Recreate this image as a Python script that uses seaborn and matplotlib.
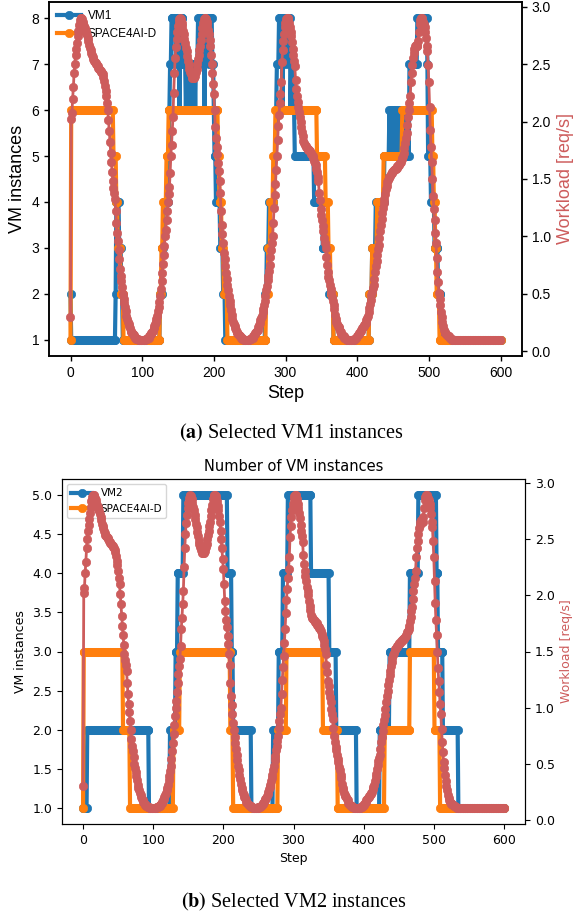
import numpy as np
import pandas as pd
import matplotlib
matplotlib.use("Agg")
import matplotlib.pyplot as plt
import seaborn as sns

steps = np.arange(601)

# workload [req/s], one value per step
workload = [
    0.30, 2.02, 2.07, 2.20, 2.30, 2.42, 2.50, 2.58, 2.63, 2.68,
    2.74, 2.79, 2.84, 2.88, 2.90, 2.90, 2.89, 2.87, 2.85, 2.83,
    2.81, 2.79, 2.77, 2.75, 2.73, 2.70, 2.67, 2.64, 2.62, 2.60,
    2.58, 2.56, 2.54, 2.53, 2.52, 2.51, 2.50, 2.49, 2.48, 2.47,
    2.46, 2.45, 2.44, 2.43, 2.42, 2.41, 2.39, 2.35, 2.31, 2.27,
    2.22, 2.16, 2.10, 2.01, 1.92, 1.82, 1.73, 1.65, 1.56, 1.48,
    1.42, 1.38, 1.33, 1.22, 1.12, 1.03, 0.96, 0.88, 0.80, 0.72,
    0.66, 0.61, 0.56, 0.50, 0.46, 0.42, 0.39, 0.35, 0.31, 0.28,
    0.26, 0.24, 0.22, 0.20, 0.18, 0.17, 0.16, 0.15, 0.14, 0.13,
    0.12, 0.12, 0.11, 0.11, 0.11, 0.10, 0.10, 0.10, 0.10, 0.10,
    0.10, 0.10, 0.10, 0.10, 0.10, 0.11, 0.11, 0.11, 0.12, 0.12,
    0.13, 0.14, 0.15, 0.16, 0.17, 0.18, 0.20, 0.22, 0.24, 0.26,
    0.28, 0.31, 0.35, 0.39, 0.43, 0.48, 0.54, 0.61, 0.68, 0.76,
    0.84, 0.92, 1.00, 1.06, 1.14, 1.22, 1.30, 1.37, 1.43, 1.55,
    1.70, 1.80, 1.92, 2.04, 2.25, 2.42, 2.55, 2.65, 2.72, 2.78,
    2.83, 2.87, 2.89, 2.90, 2.89, 2.86, 2.83, 2.79, 2.76, 2.72,
    2.68, 2.64, 2.61, 2.57, 2.53, 2.49, 2.46, 2.43, 2.41, 2.39,
    2.38, 2.38, 2.38, 2.39, 2.40, 2.43, 2.46, 2.50, 2.54, 2.58,
    2.62, 2.66, 2.71, 2.76, 2.81, 2.86, 2.89, 2.90, 2.90, 2.89,
    2.87, 2.84, 2.80, 2.76, 2.71, 2.66, 2.58, 2.50, 2.42, 2.33,
    2.24, 2.10, 1.95, 1.86, 1.78, 1.72, 1.64, 1.57, 1.48, 1.38,
    1.22, 1.10, 1.02, 0.94, 0.86, 0.80, 0.74, 0.68, 0.63, 0.58,
    0.53, 0.48, 0.44, 0.40, 0.36, 0.32, 0.28, 0.26, 0.24, 0.22,
    0.20, 0.19, 0.17, 0.16, 0.15, 0.14, 0.13, 0.13, 0.12, 0.12,
    0.11, 0.11, 0.10, 0.10, 0.10, 0.10, 0.10, 0.10, 0.10, 0.10,
    0.11, 0.11, 0.11, 0.12, 0.12, 0.13, 0.14, 0.15, 0.16, 0.17,
    0.18, 0.19, 0.21, 0.23, 0.25, 0.27, 0.29, 0.31, 0.34, 0.37,
    0.40, 0.44, 0.48, 0.53, 0.57, 0.62, 0.66, 0.70, 0.75, 0.82,
    0.88, 0.94, 1.00, 1.12, 1.25, 1.36, 1.46, 1.58, 1.70, 1.84,
    1.96, 2.06, 2.16, 2.24, 2.34, 2.52, 2.62, 2.70, 2.76, 2.82,
    2.86, 2.89, 2.90, 2.90, 2.89, 2.86, 2.82, 2.78, 2.74, 2.69,
    2.63, 2.58, 2.53, 2.48, 2.36, 2.28, 2.22, 2.17, 2.13, 2.08,
    2.04, 2.00, 1.95, 1.91, 1.87, 1.83, 1.81, 1.80, 1.79, 1.78,
    1.77, 1.76, 1.75, 1.75, 1.74, 1.73, 1.72, 1.71, 1.70, 1.68,
    1.66, 1.64, 1.62, 1.59, 1.56, 1.52, 1.48, 1.38, 1.32, 1.24,
    1.19, 1.14, 1.09, 1.05, 0.99, 0.94, 0.90, 0.82, 0.75, 0.69,
    0.65, 0.62, 0.58, 0.54, 0.51, 0.47, 0.44, 0.40, 0.37, 0.32,
    0.28, 0.26, 0.24, 0.22, 0.21, 0.20, 0.18, 0.17, 0.15, 0.14,
    0.13, 0.13, 0.12, 0.12, 0.11, 0.11, 0.10, 0.10, 0.10, 0.10,
    0.10, 0.10, 0.10, 0.10, 0.10, 0.10, 0.11, 0.11, 0.12, 0.12,
    0.13, 0.14, 0.15, 0.16, 0.17, 0.18, 0.19, 0.20, 0.21, 0.22,
    0.23, 0.24, 0.25, 0.27, 0.29, 0.31, 0.34, 0.38, 0.41, 0.45,
    0.49, 0.52, 0.55, 0.58, 0.63, 0.69, 0.74, 0.79, 0.84, 0.89,
    0.93, 0.99, 1.05, 1.10, 1.15, 1.20, 1.25, 1.29, 1.33, 1.37,
    1.41, 1.44, 1.47, 1.49, 1.51, 1.52, 1.53, 1.54, 1.55, 1.56,
    1.57, 1.58, 1.58, 1.59, 1.59, 1.60, 1.61, 1.61, 1.62, 1.63,
    1.64, 1.65, 1.67, 1.68, 1.70, 1.73, 1.77, 1.81, 1.86, 1.90,
    1.97, 2.04, 2.10, 2.16, 2.22, 2.34, 2.42, 2.49, 2.55, 2.60,
    2.63, 2.66, 2.67, 2.66, 2.66, 2.70, 2.78, 2.85, 2.88, 2.90,
    2.90, 2.89, 2.87, 2.85, 2.82, 2.78, 2.73, 2.66, 2.61, 2.49,
    2.34, 2.13, 1.93, 1.78, 1.65, 1.50, 1.35, 1.24, 1.14, 1.03,
    0.94, 0.81, 0.69, 0.60, 0.51, 0.46, 0.40, 0.34, 0.30, 0.26,
    0.22, 0.19, 0.17, 0.16, 0.15, 0.14, 0.14, 0.13, 0.13, 0.12,
    0.12, 0.11, 0.11, 0.10, 0.10, 0.10, 0.10, 0.10, 0.10, 0.10,
    0.10, 0.10, 0.10, 0.10, 0.10, 0.10, 0.10, 0.10, 0.10, 0.10,
    0.10, 0.10, 0.10, 0.10, 0.10, 0.10, 0.10, 0.10, 0.10, 0.10,
    0.10, 0.10, 0.10, 0.10, 0.10, 0.10, 0.10, 0.10, 0.10, 0.10,
    0.10, 0.10, 0.10, 0.10, 0.10, 0.10, 0.10, 0.10, 0.10, 0.10,
    0.10, 0.10, 0.10, 0.10, 0.10, 0.10, 0.10, 0.10, 0.10, 0.10,
    0.10, 0.10, 0.10, 0.10, 0.10, 0.10, 0.10, 0.10, 0.10, 0.10,
    0.10,
]

# step functions: step where a level starts, and the level
vm1_start = [0, 1, 63, 64, 68, 71, 73,
             125, 128, 130, 137, 138, 139, 141, 147, 148, 152, 153, 157,
             161, 162, 165, 166, 169, 170, 174, 175, 178, 182, 183, 187,
             188, 193, 194, 198, 200, 201, 203, 209, 213, 216,
             272, 274, 277, 284, 287, 288, 291, 296, 297, 301, 302, 307,
             308, 312, 313, 340, 352, 361, 367,
             417, 421, 426, 438,
             445, 446, 447, 448, 449, 450, 451, 452, 453, 454, 455, 456, 457, 458,
             459, 460, 461, 462, 463, 464, 465, 466, 467, 468, 469, 470, 471, 472,
             473, 484, 498, 499, 503, 508, 513, 517]
vm1_level = [2, 1, 2, 4, 3, 2, 1,
             2, 3, 4, 5, 6, 7, 8, 7, 8, 6, 8, 7,
             6, 7, 6, 7, 6, 7, 6, 7, 8, 7, 8, 6,
             8, 7, 8, 7, 6, 5, 4, 3, 2, 1,
             2, 3, 4, 5, 6, 7, 8, 6, 8, 7, 8, 6,
             7, 6, 5, 4, 3, 2, 1,
             2, 3, 4, 5,
             6, 5, 6, 5, 6, 5, 6, 5, 6, 5, 6, 5, 6, 5,
             6, 5, 6, 5, 6, 5, 6, 5, 6, 5, 6, 5, 6, 5,
             7, 8, 7, 5, 4, 3, 2, 1]

opt_a_start = [0, 1, 60, 64, 66, 70, 74, 125, 127, 129, 134, 137,
               206, 208, 211, 214, 219, 273, 276, 279, 283, 286,
               344, 356, 360, 363, 367, 417, 421, 428, 437, 463,
               505, 507, 509, 511, 515]
opt_a_level = [1, 6, 5, 4, 3, 2, 1, 2, 3, 4, 5, 6,
               5, 4, 3, 2, 1, 2, 3, 4, 5, 6,
               5, 4, 3, 2, 1, 2, 3, 4, 5, 6,
               5, 4, 3, 2, 1]

vm2_start = [0, 6, 94, 124, 132, 135, 143, 206, 212, 214, 240, 271, 279, 285,
             292, 325, 351, 361, 390, 423, 437, 466, 478, 504, 506, 513, 535]
vm2_level = [1, 2, 1, 2, 3, 4, 5, 4, 3, 2, 1, 2, 3, 4,
             5, 4, 3, 2, 1, 2, 3, 4, 5, 4, 3, 2, 1]

opt_b_start = [0, 1, 57, 67, 129, 138, 210, 214, 278, 290, 342, 363, 430, 466, 501, 509]
opt_b_level = [1, 3, 2, 1, 2, 3, 2, 1, 2, 3, 2, 1, 2, 3, 2, 1]


def expand(starts, levels):
    lengths = np.diff(starts + [len(steps)])
    return np.repeat(levels, lengths)


C_VM, C_OPT, C_WL = "#1f77b4", "#ff7f0e", "indianred"
plt.rcParams["mathtext.fontset"] = "stix"

fig = plt.figure(figsize=(5.76, 9.17), dpi=100)
ax_a = fig.add_axes([49 / 576, 1 - 356 / 917, 473 / 576, 354 / 917])
ax_b = fig.add_axes([62 / 576, 1 - 824 / 917, 463 / 576, 345 / 917])


def draw(ax, vm, opt, vm_name):
    df = pd.DataFrame({"Step": steps, vm_name: vm, "SPACE4AI-D": opt, "Workload": workload})
    sns.lineplot(data=df, x="Step", y=vm_name, ax=ax, color=C_VM, linewidth=3,
                 marker="o", markersize=6, mec=C_VM, mew=0.5, label=vm_name)
    sns.lineplot(data=df, x="Step", y="SPACE4AI-D", ax=ax, color=C_OPT, linewidth=3,
                 marker="o", markersize=6, mec=C_OPT, mew=0.5, label="SPACE4AI-D")
    ax2 = ax.twinx()
    sns.lineplot(data=df, x="Step", y="Workload", ax=ax2, color=C_WL, linewidth=2,
                 marker="o", markersize=6, mec=C_WL, mew=0.5)
    return ax2


# (a) VM1
ax_a2 = draw(ax_a, expand(vm1_start, vm1_level), expand(opt_a_start, opt_a_level), "VM1")
sans = "Liberation Sans"
ax_a.set_xlabel("Step", fontsize=13, family=sans)
ax_a.set_ylabel("VM instances", fontsize=13, family=sans)
ax_a2.set_ylabel("Workload [req/s]", fontsize=13, family=sans, color=C_WL)
for a in (ax_a, ax_a2):
    a.tick_params(labelsize=10, labelfontfamily=sans, width=1)
    for sp in a.spines.values():
        sp.set_linewidth(1.1)
ax_a.legend(loc="upper left", frameon=False, prop={"family": sans, "size": 8.5},
            borderaxespad=0.3, handletextpad=0.6)

# (b) VM2
ax_b2 = draw(ax_b, expand(vm2_start, vm2_level), expand(opt_b_start, opt_b_level), "VM2")
ax_b.set_title("Number of VM instances", fontsize=10.5)
ax_b.set_xlabel("Step", fontsize=9)
ax_b.set_ylabel("VM instances", fontsize=9)
ax_b2.set_ylabel("Workload [req/s]", fontsize=9, color=C_WL)
for a in (ax_b, ax_b2):
    a.tick_params(labelsize=9)
ax_b.legend(loc="upper left", prop={"size": 7.5})

fig.text(0.505, 1 - 433 / 917, r"$\mathbf{(a)}$ Selected VM1 instances",
         ha="center", va="center", family="Liberation Serif", fontsize=14.5)
fig.text(0.51, 1 - 902 / 917, r"$\mathbf{(b)}$ Selected VM2 instances",
         ha="center", va="center", family="Liberation Serif", fontsize=14.5)

fig.savefig("out.png", dpi=100)
